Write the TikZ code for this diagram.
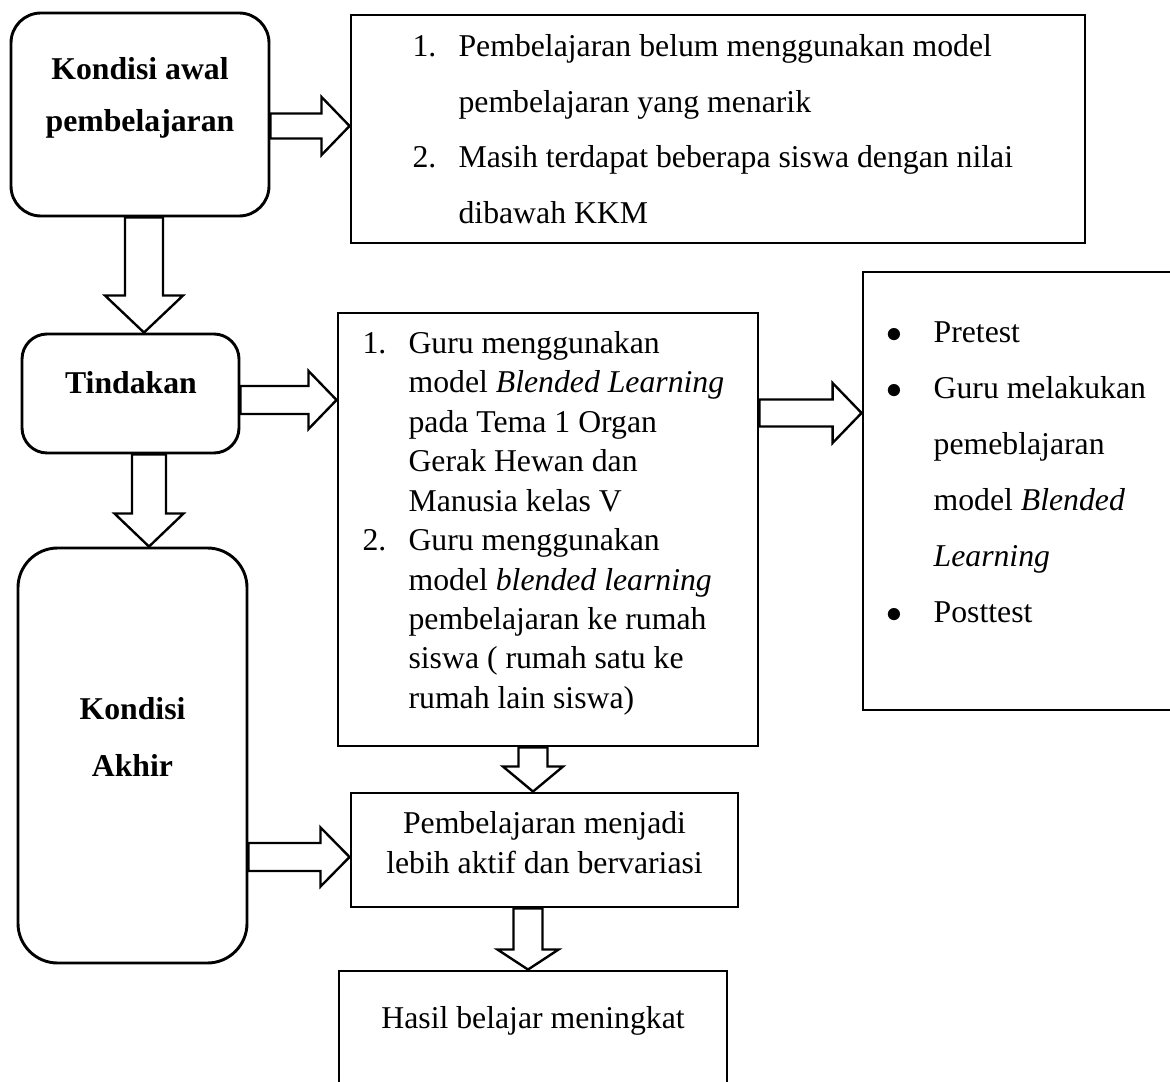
\documentclass[tikz,border=0pt]{standalone}
\usepackage{fontspec}
\setmainfont{Liberation Serif}
\usetikzlibrary{calc}
\newlength{\px}
\setlength{\px}{0.378pt}
\newcommand{\itm}[1]{\makebox[17.4pt][l]{#1}}
\newcommand{\ind}{\hspace*{17.4pt}}
\newcommand{\bul}{\makebox[17.8pt][l]{$\bullet$}}
% block arrows: from, to, y (or x), shaft half width, head half width, head length
\newcommand{\arrR}[6]{\draw[blockarr] ($(#1 |- 0,#3)+(0,-#4)$) -- ($(#2 |- 0,#3)+(-#6,-#4)$) -- ($(#2 |- 0,#3)+(-#6,-#5)$) -- (#2 |- 0,#3) -- ($(#2 |- 0,#3)+(-#6,#5)$) -- ($(#2 |- 0,#3)+(-#6,#4)$) -- ($(#1 |- 0,#3)+(0,#4)$) -- cycle;}
\newcommand{\arrD}[6]{\draw[blockarr] ($(#1 -| #3,0)+(-#4,0)$) -- ($(#2 -| #3,0)+(-#4,-#6)$) -- ($(#2 -| #3,0)+(-#5,-#6)$) -- (#2 -| #3,0) -- ($(#2 -| #3,0)+(#5,-#6)$) -- ($(#2 -| #3,0)+(#4,-#6)$) -- ($(#1 -| #3,0)+(#4,0)$) -- cycle;}

\begin{document}
\begin{tikzpicture}[x=0.378pt, y=-0.378pt,
    box/.style={draw, line width=1.1pt, inner sep=0pt},
    txt/.style={inner sep=0pt, align=left, anchor=north west},
    ctxt/.style={inner sep=0pt, align=center, anchor=north},
    blockarr/.style={draw, line width=0.9pt, line join=miter}]
                \useasboundingbox (0,0) rectangle (1170,1082);
                % boxes
                \node[box, rounded corners=11.3pt, minimum width=258*\px, minimum height=203*\px] (kawal) at (140,114.5) {};
                \node[box, minimum width=734*\px, minimum height=228*\px] (masalah) at (718,129) {};
                \node[box, rounded corners=9.5pt, minimum width=217*\px, minimum height=119*\px] (tindakan) at (130.5,393.5) {};
                \node[box, rounded corners=15pt, minimum width=229*\px, minimum height=415*\px] (akhir) at (132.5,755.5) {};
                \node[box, minimum width=420*\px, minimum height=433*\px] (aksi) at (548,529.5) {};
                \node[box, minimum width=327*\px, minimum height=438*\px] (langkah) at (1026.5,491) {};
                \node[box, minimum width=387*\px, minimum height=114*\px] (aktif) at (544.5,850) {};
                \node[box, minimum width=388*\px, minimum height=160*\px] (hasil) at (533,1051) {};
                % texts
                \node[ctxt, font=\bfseries\fontsize{12pt}{19.7pt}\selectfont] (kawal-t) at (140,57) {Kondisi awal\\pembelajaran};
                \node[txt, font=\fontsize{12pt}{21pt}\selectfont] (masalah-t) at (412,34) {\itm{1.}Pembelajaran belum menggunakan model\\
                    \ind pembelajaran yang menarik\\
                    \itm{2.}Masih terdapat beberapa siswa dengan nilai\\
                    \ind dibawah KKM};
                \node[ctxt, font=\bfseries\fontsize{12pt}{14pt}\selectfont] (tindakan-t) at (131,371) {Tindakan};
                \node[txt, font=\fontsize{12pt}{14.9pt}\selectfont] (aksi-t) at (362,331) {\itm{1.}Guru menggunakan\\
                    \ind model \textit{Blended Learning}\\
                    \ind pada Tema 1 Organ\\
                    \ind Gerak Hewan dan\\
                    \ind Manusia kelas V\\
                    \itm{2.}Guru menggunakan\\
                    \ind model \textit{blended learning}\\
                    \ind pembelajaran ke rumah\\
                    \ind siswa ( rumah satu ke\\
                    \ind rumah lain siswa)};
                \node[txt, font=\fontsize{12pt}{21.2pt}\selectfont] (langkah-t) at (886,321) {\bul Pretest\\
                    \bul Guru melakukan\\
                    \hspace*{17.8pt}pemeblajaran\\
                    \hspace*{17.8pt}model \textit{Blended}\\
                    \hspace*{17.8pt}\textit{Learning}\\
                    \bul Posttest};
                \node[ctxt, font=\bfseries\fontsize{12pt}{21.5pt}\selectfont] (akhir-t) at (132.5,697) {Kondisi\\Akhir};
                \node[ctxt, font=\fontsize{12pt}{15.1pt}\selectfont] (aktif-t) at (544.5,811) {Pembelajaran menjadi\\lebih aktif dan bervariasi};
                \node[ctxt, font=\fontsize{12pt}{14pt}\selectfont] (hasil-t) at (533,1006) {Hasil belajar meningkat};
                % arrows
                \arrR{kawal.east}{masalah.west}{126}{12.5}{29}{28}
                \arrR{tindakan.east}{aksi.west}{400}{14}{29}{28}
                \arrR{aksi.east}{langkah.west}{413}{13.5}{30}{29}
                \arrR{akhir.east}{aktif.west}{857}{14}{29.5}{29}
                \arrD{kawal.south}{tindakan.north}{144}{19}{39}{37}
                \arrD{tindakan.south}{akhir.north}{149}{17}{34.5}{33}
                \arrD{aksi.south}{aktif.north}{533}{14.5}{30}{25}
                \arrD{aktif.south}{hasil.north}{528}{14.5}{30.5}{20}
            \end{tikzpicture}
\end{document}
